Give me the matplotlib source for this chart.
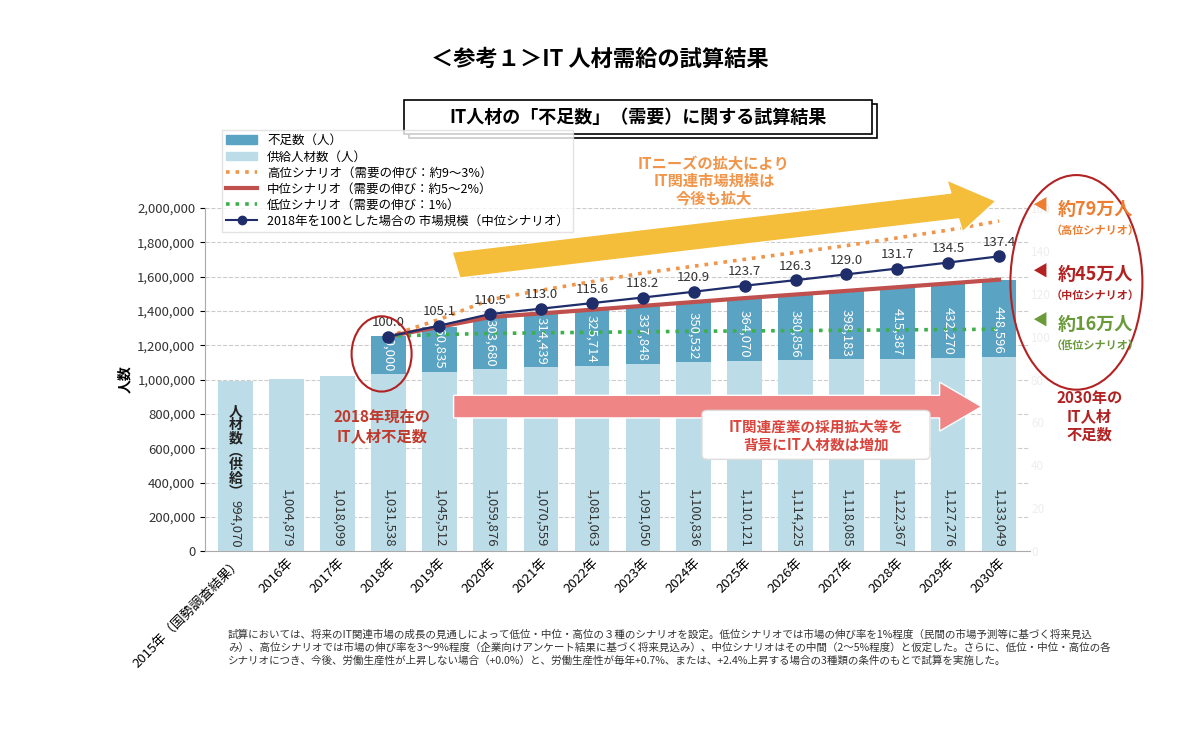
import matplotlib.pyplot as plt
from matplotlib.patches import FancyArrow, Ellipse, Rectangle, FancyBboxPatch, Patch
from matplotlib.lines import Line2D
import numpy as np

plt.rcParams['font.family'] = ['Noto Sans CJK JP', 'DejaVu Sans']

years = ['2015年（国勢調査結果）', '2016年', '2017年', '2018年', '2019年', '2020年', '2021年', '2022年',
         '2023年', '2024年', '2025年', '2026年', '2027年', '2028年', '2029年', '2030年']
supply = [994070, 1004879, 1018099, 1031538, 1045512, 1059876, 1070559, 1081063,
          1091050, 1100836, 1110121, 1114225, 1118085, 1122367, 1127276, 1133049]
shortage = [220000, 260835, 303680, 314439, 325714, 337848, 350532, 364070,
            380856, 398183, 415387, 432270, 448596]
high = [1252000, 1350000, 1465000, 1520000, 1570000, 1620000, 1660000, 1700000,
        1740000, 1780000, 1825000, 1870000, 1923000]
low = [1252000, 1262000, 1268000, 1272000, 1275000, 1278000, 1281000, 1283000,
       1285000, 1287000, 1289000, 1291000, 1293000]
index = [100.0, 105.1, 110.5, 113.0, 115.6, 118.2, 120.9, 123.7, 126.3, 129.0, 131.7, 134.5, 137.4]

C_SHORT = '#5ba3c2'
C_SUP = '#bcdde8'

fig = plt.figure(figsize=(12, 7.53), dpi=100)
ax = fig.add_axes([0.171, 0.268, 0.687, 0.456])
x = np.arange(len(years))
xf = x[3:]
mid = [s + d for s, d in zip(supply[3:], shortage)]

ax.bar(x, supply, width=0.68, color=C_SUP, zorder=2)
ax.bar(xf, shortage, bottom=supply[3:], width=0.68, color=C_SHORT, zorder=2)
ax.plot(xf, high, ':', color='#f0954a', lw=2.6, zorder=3)
ax.plot(xf, mid, '-', color='#c0504d', lw=3, zorder=3)
ax.plot(xf, low, ':', color='#3cb04a', lw=2.6, zorder=3)

for i, v in enumerate(supply):
    ax.text(i, 20000, f'{v:,}', rotation=270, ha='center', va='bottom', fontsize=9.5, color='#333333', zorder=4)
for i, v in zip(xf, shortage):
    ax.text(i, supply[i] + 15000, f'{v:,}', rotation=270, ha='center', va='bottom', fontsize=9.5, color='white', zorder=4)
ax.text(0, 580000, '人\n材\n数\n︵\n供\n給\n︶', ha='center', va='center', fontsize=10,
        fontweight='bold', color='#222222', linespacing=0.95, zorder=4)

ax.set_ylim(0, 2000000)
ax.set_xlim(-0.6, 15.6)
ax.set_yticks(np.arange(0, 2000001, 200000))
ax.set_yticklabels([f'{v:,}' for v in range(0, 2000001, 200000)], fontsize=9.5, color='#333333')
ax.set_xticks(x)
ax.set_xticklabels(years, rotation=45, ha='right', rotation_mode='anchor', fontsize=9.5)
ax.tick_params(axis='x', length=0)
ax.grid(axis='y', ls='--', color='#cccccc', lw=0.8, zorder=0)
for s in ['top', 'right']:
    ax.spines[s].set_visible(False)
ax.spines['left'].set_color('#aaaaaa')
ax.spines['bottom'].set_color('#aaaaaa')
ax.set_ylabel('人数', fontsize=10, fontweight='bold')

ax2 = ax.twinx()
ax2.set_ylim(0, 160)
ax2.plot(xf, index, '-o', color='#1f2d6b', lw=1.6, ms=8, zorder=5)
for i, v in zip(xf, index):
    ax2.text(i, v + 3.5, f'{v:.1f}', ha='center', va='bottom', fontsize=9.5, color='#333333')
ax2.set_yticks(range(0, 161, 20))
ax2.tick_params(axis='y', colors='#eeeeee', labelsize=8.5, length=0, pad=1)
for s in ax2.spines.values():
    s.set_visible(False)

# legend
handles = [Patch(color=C_SHORT), Patch(color=C_SUP),
           Line2D([], [], ls=':', color='#f0954a', lw=2.6),
           Line2D([], [], color='#c0504d', lw=3),
           Line2D([], [], ls=':', color='#3cb04a', lw=2.6),
           Line2D([], [], color='#1f2d6b', marker='o', ms=6)]
labels = ['不足数（人）', '供給人材数（人）', '高位シナリオ（需要の伸び：約9～3%）',
          '中位シナリオ（需要の伸び：約5～2%）', '低位シナリオ（需要の伸び：1%）',
          '2018年を100とした場合の 市場規模（中位シナリオ）']
fig.legend(handles, labels, loc='upper left', bbox_to_anchor=(0.18, 0.835), fontsize=9,
           frameon=True, edgecolor='#dddddd', fancybox=False, handlelength=2.5,
           labelspacing=0.25, borderpad=0.3)

# titles
fig.text(0.5, 0.912, '＜参考１＞IT 人材需給の試算結果', ha='center', fontsize=16, fontweight='bold')
fig.add_artist(Rectangle((0.337, 0.822), 0.39, 0.045, transform=fig.transFigure,
                         fc='white', ec='black', lw=1.2))
fig.add_artist(Rectangle((0.341, 0.817), 0.39, 0.045, transform=fig.transFigure,
                         fc='none', ec='black', lw=1.2, zorder=0))
fig.text(0.532, 0.844, 'IT人材の「不足数」（需要）に関する試算結果', ha='center', va='center',
         fontsize=13, fontweight='bold')

# arrows
fig.add_artist(FancyArrow(0.38, 0.648, 0.45, 0.085, width=0.035, head_width=0.07, head_length=0.035,
                          length_includes_head=True, transform=fig.transFigure, color='#f4bd3a', ec='white'))
fig.text(0.595, 0.76, 'ITニーズの拡大により\nIT関連市場規模は\n今後も拡大', ha='center', va='center',
         fontsize=11, fontweight='bold', color='#f0954a', linespacing=1.1)
fig.add_artist(FancyArrow(0.378, 0.46, 0.44, 0.0, width=0.03, head_width=0.065, head_length=0.035,
                          length_includes_head=True, transform=fig.transFigure, color='#ef8585', ec='white'))
fig.add_artist(FancyBboxPatch((0.59, 0.395), 0.18, 0.055, boxstyle='round,pad=0.005',
                              transform=fig.transFigure, fc='white', ec='#dddddd'))
fig.text(0.68, 0.422, 'IT関連産業の採用拡大等を\n背景にIT人材数は増加', ha='center', va='center',
         fontsize=10.5, fontweight='bold', color='#d9443c', linespacing=1.15)

# circles
fig.add_artist(Ellipse((0.318, 0.53), 0.05, 0.1, transform=fig.transFigure, fc='none', ec='#b22222', lw=1.5))
fig.text(0.318, 0.433, '2018年現在の\nIT人材不足数', ha='center', va='center', fontsize=11,
         fontweight='bold', color='#c0392b', linespacing=1.15)
fig.add_artist(Ellipse((0.897, 0.625), 0.11, 0.285, transform=fig.transFigure, fc='none', ec='#b22222', lw=1.5))
ax_x = 0.913
fig.text(ax_x, 0.715, '約79万人', ha='center', fontsize=13, fontweight='bold', color='#ed7d31')
fig.text(ax_x, 0.69, '（高位シナリオ）', ha='center', fontsize=8, fontweight='bold', color='#ed7d31')
fig.text(ax_x, 0.628, '約45万人', ha='center', fontsize=13, fontweight='bold', color='#b22222')
fig.text(ax_x, 0.603, '（中位シナリオ）', ha='center', fontsize=8, fontweight='bold', color='#b22222')
fig.text(ax_x, 0.562, '約16万人', ha='center', fontsize=13, fontweight='bold', color='#6a9a3a')
fig.text(ax_x, 0.537, '（低位シナリオ）', ha='center', fontsize=8, fontweight='bold', color='#6a9a3a')
for yy, cc in [(0.726, '#ed7d31'), (0.639, '#b22222'), (0.573, '#6a9a3a')]:
    fig.text(0.866, yy, '◀', ha='center', va='center', fontsize=11, color=cc)
fig.text(0.908, 0.447, '2030年の\nIT人材\n不足数', ha='center', va='center', fontsize=11,
         fontweight='bold', color='#b22222', linespacing=1.15)

fig.text(0.19, 0.14, '試算においては、将来のIT関連市場の成長の見通しによって低位・中位・高位の３種のシナリオを設定。低位シナリオでは市場の伸び率を1%程度（民間の市場予測等に基づく将来見込\n'
         'み）、高位シナリオでは市場の伸び率を3～9%程度（企業向けアンケート結果に基づく将来見込み）、中位シナリオはその中間（2～5%程度）と仮定した。さらに、低位・中位・高位の各\n'
         'シナリオにつき、今後、労働生産性が上昇しない場合（+0.0%）と、労働生産性が毎年+0.7%、または、+2.4%上昇する場合の3種類の条件のもとで試算を実施した。',
         fontsize=7.6, color='#333333', va='center', linespacing=1.3)

fig.savefig('out.png', dpi=100)
